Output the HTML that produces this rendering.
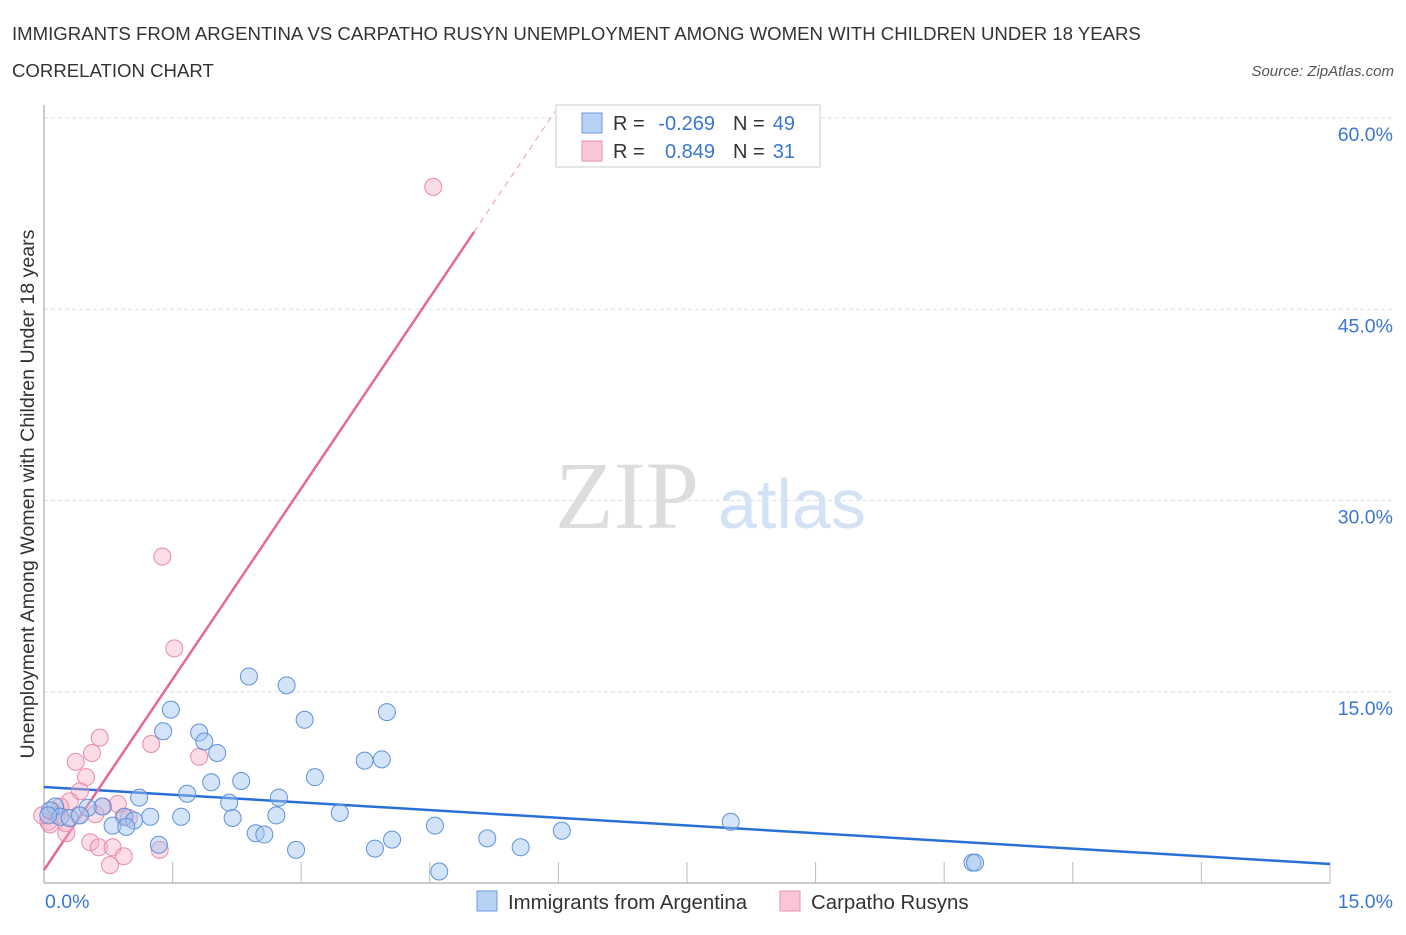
<!DOCTYPE html>
<html><head><meta charset="utf-8"><style>
body{margin:0;background:#fff;font-family:"Liberation Sans",sans-serif;}
</style></head><body>
<svg width="1406" height="930" xmlns="http://www.w3.org/2000/svg" style="font-family:'Liberation Sans',sans-serif">
<text x="12" y="40" font-size="18.6" fill="#333">IMMIGRANTS FROM ARGENTINA VS CARPATHO RUSYN UNEMPLOYMENT AMONG WOMEN WITH CHILDREN UNDER 18 YEARS</text>
<text x="12" y="77" font-size="18.6" fill="#333">CORRELATION CHART</text>
<text x="1394" y="76" font-size="15" fill="#555" font-style="italic" text-anchor="end">Source: ZipAtlas.com</text>
<g id="grid"></g>
<text x="555" y="528" font-size="96" fill="#ddd" font-family="Liberation Serif,serif">ZIP</text>
<text x="718" y="528" font-size="70" fill="#d3e2f5">atlas</text>
<g id="lines"></g>
<g id="pts"></g>
<text transform="translate(34,494) rotate(-90)" font-size="19.6" fill="#333" text-anchor="middle">Unemployment Among Women with Children Under 18 years</text>
<g>
<rect x="556" y="105" width="264" height="62" fill="#fff" stroke="#ccc"/>
<rect x="582" y="113" width="20" height="20" fill="#b8d2f5" stroke="#6b9ae0"/>
<text x="613" y="130" font-size="20" fill="#333">R =</text>
<text x="715" y="130" font-size="20" fill="#3a76d2" text-anchor="end">-0.269</text>
<text x="733" y="130" font-size="20" fill="#333">N =</text>
<text x="795" y="130" font-size="20" fill="#3a76d2" text-anchor="end">49</text>
<rect x="582" y="141" width="20" height="20" fill="#f8c6d5" stroke="#e892ad"/>
<text x="613" y="158" font-size="20" fill="#333">R =</text>
<text x="715" y="158" font-size="20" fill="#3a76d2" text-anchor="end">0.849</text>
<text x="733" y="158" font-size="20" fill="#333">N =</text>
<text x="795" y="158" font-size="20" fill="#3a76d2" text-anchor="end">31</text>
</g>
<g>
<rect x="477" y="891" width="20" height="20" fill="#b8d2f5" stroke="#6b9ae0"/>
<text x="508" y="909" font-size="20.4" fill="#333">Immigrants from Argentina</text>
<rect x="780" y="891" width="20" height="20" fill="#f8c6d5" stroke="#e892ad"/>
<text x="811" y="909" font-size="20.4" fill="#333">Carpatho Rusyns</text>
</g>
</svg>
<script>
const yTicks=[15,30,45,60];
const yTickLabels=["15.0%","30.0%","45.0%","60.0%"];
const xTicks=[0,1.5,3,4.5,6,7.5,9,10.5,12,13.5,15];
const blueX=[2.39,2.83,1.48,4.0,3.04,1.81,1.39,1.87,2.02,3.74,3.94,1.95,2.30,3.16,1.67,1.11,2.74,2.16,0.68,0.51,0.13,0.07,1.24,1.60,2.20,2.71,3.45,0.94,1.05,0.19,0.30,0.80,0.96,2.47,2.57,4.56,4.06,5.17,6.04,8.01,1.34,2.94,3.86,5.56,4.61,10.83,10.86,0.05,0.42];
const blueY=[16.2,15.5,13.6,13.4,12.8,11.8,11.9,11.1,10.2,9.6,9.7,7.9,8.0,8.3,7.0,6.7,6.7,6.3,6.0,5.9,6.0,5.7,5.2,5.2,5.1,5.3,5.5,5.2,4.9,5.2,5.1,4.5,4.4,3.9,3.8,4.5,3.4,3.5,4.1,4.8,3.0,2.6,2.7,2.8,0.9,1.6,1.6,5.3,5.3];
const pinkX=[4.54,1.38,1.52,0.65,1.25,0.56,1.81,0.37,0.49,0.42,0.30,0.69,0.19,0.09,0.93,0.99,0.60,0.05,0.25,0.07,0.26,0.54,0.64,0.80,0.93,1.35,0.77,0.40,0.15,-0.02,0.86];
const pinkY=[54.6,25.6,18.4,11.4,10.9,10.2,9.9,9.5,8.3,7.2,6.4,6.0,6.0,5.7,5.2,5.1,5.4,4.8,4.7,4.6,3.9,3.2,2.8,2.8,2.1,2.6,1.4,5.3,5.3,5.3,6.2];
const blueLine=[[0,7.53],[15,1.49]];
const pinkLine=[[0,1.02],[5.016,51.06]];
const pinkDash=[[5.016,51.06],[5.96,60.5]];
const X=v=>44+v*85.73, Y=v=>883-v*12.75;
const NS="http://www.w3.org/2000/svg";
function mk(t,a,p){const e=document.createElementNS(NS,t);for(const k in a)e.setAttribute(k,a[k]);p.appendChild(e);return e;}
const grid=document.getElementById('grid');
yTicks.forEach((t,i)=>{
 const l=mk('line',{x1:44,x2:1394,y1:Y(t),y2:Y(t),stroke:'#ddd','stroke-dasharray':'4,3'},grid);
 
 
 const tx=mk('text',{x:1393,y:Y(t)+23,'font-size':19.5,fill:'#3a76d2','text-anchor':'end'},grid);
 tx.textContent=yTickLabels[i];
 
 
});
const ax=mk('line',{x1:44,x2:44,y1:105,y2:883,stroke:'#bbb','stroke-width':1.5},grid);


const bx=mk('line',{x1:44,x2:1330,y1:883,y2:883,stroke:'#bbb','stroke-width':1.5},grid);


xTicks.forEach(t=>{const l=mk('line',{x1:X(t),x2:X(t),y1:862,y2:883,stroke:'#bbb'},grid);
 
 });
const xl0=mk('text',{x:45,y:908,'font-size':19.5,fill:'#3a76d2'},grid);xl0.textContent='0.0%';


const xl1=mk('text',{x:1393,y:908,'font-size':19.5,fill:'#3a76d2','text-anchor':'end'},grid);xl1.textContent='15.0%';


const pts=document.getElementById('pts');
pinkX.forEach((x,i)=>{const c=mk('circle',{cx:X(x),cy:Y(pinkY[i]),r:8.5,fill:'rgba(245,170,195,0.4)',stroke:'#e98aa8','stroke-width':1},pts);
 
 });
blueX.forEach((x,i)=>{const c=mk('circle',{cx:X(x),cy:Y(blueY[i]),r:8.5,fill:'rgba(160,195,240,0.45)',stroke:'#5d92dc','stroke-width':1},pts);
 
 });
const lines=document.getElementById('lines');
const bl=mk('line',{x1:X(blueLine[0][0]),y1:Y(blueLine[0][1]),x2:X(blueLine[1][0]),y2:Y(blueLine[1][1]),stroke:'#2a6fd6','stroke-width':2.5},lines);


const pl=mk('line',{x1:X(pinkLine[0][0]),y1:Y(pinkLine[0][1]),x2:X(pinkLine[1][0]),y2:Y(pinkLine[1][1]),stroke:'#e8679a','stroke-width':2.5},lines);


const pd=mk('line',{x1:X(pinkDash[0][0]),y1:Y(pinkDash[0][1]),x2:X(pinkDash[1][0]),y2:Y(pinkDash[1][1]),stroke:'#f0a8c0','stroke-width':1.2,'stroke-dasharray':'6,5'},lines);


</script>
</body></html>
